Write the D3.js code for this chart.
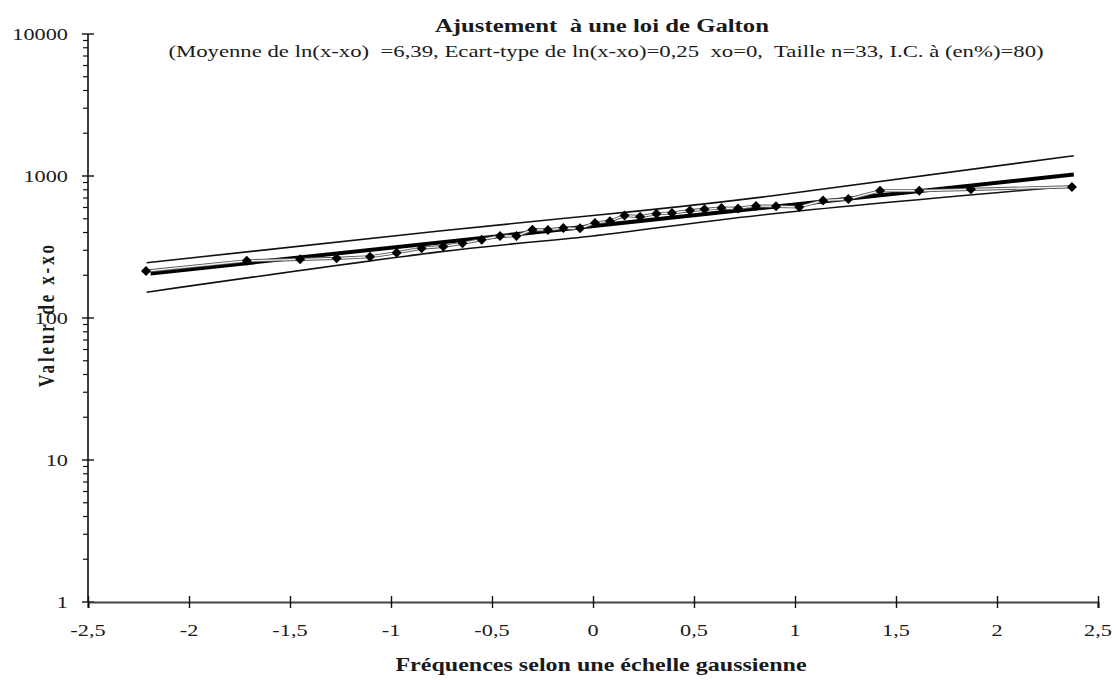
<!DOCTYPE html>
<html>
<head>
<meta charset="utf-8">
<script src="https://cdn.jsdelivr.net/npm/d3@7"></script>
<style>
  body { margin: 0; background: #fff; }
  svg { display: block; }
  text { font-family: "Liberation Serif", "Times New Roman", serif; fill: #1a1a1a; }
</style>
</head>
<body>
<svg id="chart" width="1116" height="680"></svg>
<script>
// Sample on a Gaussian frequency scale (z) and the observed values x - xo
const gaussZ = [-2.213, -1.714, -1.450, -1.269, -1.104, -0.972, -0.848, -0.741, -0.646, -0.551,
                -0.460, -0.379, -0.300, -0.223, -0.147, -0.064, 0.010, 0.084, 0.156, 0.233,
                0.314, 0.391, 0.480, 0.552, 0.636, 0.718, 0.807, 0.906, 1.021, 1.139,
                1.264, 1.421, 1.615, 1.871, 2.371];
const observed = [214, 253, 259, 263, 270, 288, 310, 319, 336, 356,
                  378, 378, 419, 417, 430, 428, 467, 481, 527, 517,
                  542, 549, 571, 583, 595, 591, 615, 612, 605, 672,
                  688, 787, 787, 806, 837];

// Fitted Galton (log-normal) line, end points
const fitZ = [-2.19, 2.38];
const fitValue = [206, 1025];

// Confidence band bounds
const boundZ = [-2.21, -0.76, 0, 0.88, 2.38];
const upperValue = [245, 410, 527, 723, 1390];
const lowerValue = [152, 292, 378, 540, 851];

// Axis ticks
const xTicks = [-2.5, -2, -1.5, -1, -0.5, 0, 0.5, 1, 1.5, 2, 2.5];
const yTicks = [1, 10, 100, 1000, 10000];

const titleText = "Ajustement  à une loi de Galton";
const subtitleText = "(Moyenne de ln(x-xo)  =6,39, Ecart-type de ln(x-xo)=0,25  xo=0,  Taille n=33, I.C. à (en%)=80)";
const xLabel = "Fréquences selon une échelle gaussienne";
const yLabel = "Valeur de x-xo";

// Text in this chart is set wide: glyphs stretched horizontally
const WIDE = 1.32;

const svg = d3.select("#chart");

const x = d3.scaleLinear().domain([-2.5, 2.5]).range([88, 1098]);
const y = d3.scaleLog().domain([1, 10000]).range([602, 34]);

function wideText(parent, px, py, str, size, anchor, bold, sx = WIDE) {
  return parent.append("text")
    .attr("transform", `translate(${px},${py}) scale(${sx},1)`)
    .attr("text-anchor", anchor)
    .attr("font-size", size)
    .attr("font-weight", bold ? "bold" : "normal")
    .attr("xml:space", "preserve")
    .text(str);
}

// Titles
wideText(svg, 602, 32, titleText, 19.5, "middle", true, 1.27);
wideText(svg, 606, 57, subtitleText, 17.5, "middle", false, 1.3);

// Y axis: line, major ticks crossing, minor log ticks outside
const yAxisG = svg.append("g");
yAxisG.append("line")
  .attr("x1", x(-2.5)).attr("x2", x(-2.5))
  .attr("y1", y(10000)).attr("y2", y(1))
  .attr("stroke", "#111").attr("stroke-width", 1.6);

const minor = y.ticks().filter(v => !yTicks.includes(v));
yAxisG.selectAll("line.minor").data(minor).join("line")
  .attr("class", "minor")
  .attr("x1", x(-2.5) - 5).attr("x2", x(-2.5))
  .attr("y1", d => y(d)).attr("y2", d => y(d))
  .attr("stroke", "#111").attr("stroke-width", 1.2);

yAxisG.selectAll("line.major").data(yTicks).join("line")
  .attr("class", "major")
  .attr("x1", x(-2.5) - 6).attr("x2", x(-2.5) + 6)
  .attr("y1", d => y(d)).attr("y2", d => y(d))
  .attr("stroke", "#111").attr("stroke-width", 1.4);

yTicks.forEach(v => {
  wideText(yAxisG, 68, y(v) + 5.5, String(v), 16.5, "end", false, 1.35);
});

// X axis through the value 1
const xAxisG = svg.append("g").attr("transform", `translate(0,${y(1)})`);
xAxisG.call(d3.axisBottom(x).tickValues(xTicks).tickSize(6).tickFormat(""));
xAxisG.call(g => g.select(".domain").attr("stroke", "#444").attr("stroke-width", 2.2));
xAxisG.selectAll(".tick line").attr("stroke", "#111").attr("stroke-width", 1.4).attr("y1", -6);
xTicks.forEach(v => {
  wideText(xAxisG, x(v), 34, String(v).replace(".", ","), 16.5, "middle", false, 1.35);
});

// Axis titles
wideText(svg, 601, 671, xLabel, 18.5, "middle", true, 1.3);

svg.append("text")
  .attr("transform", "translate(54,316) scale(1.3,1) rotate(-90)")
  .attr("text-anchor", "middle")
  .attr("font-size", 17).attr("font-weight", "bold")
  .attr("textLength", 142).attr("lengthAdjust", "spacing")
  .text(yLabel);

// Confidence bounds
const bandLine = d3.line().curve(d3.curveNatural)
  .x(d => x(d[0])).y(d => y(d[1]));
[upperValue, lowerValue].forEach(vals => {
  svg.append("path")
    .attr("d", bandLine(boundZ.map((z, i) => [z, vals[i]])))
    .attr("fill", "none").attr("stroke", "#111").attr("stroke-width", 1.6);
});

// Fitted line
svg.append("path")
  .attr("d", d3.line().x(d => x(d[0])).y(d => y(d[1]))(fitZ.map((z, i) => [z, fitValue[i]])))
  .attr("fill", "none").attr("stroke", "#000").attr("stroke-width", 4);

// Observed series: joining line and diamond markers
const pts = gaussZ.map((z, i) => [z, observed[i]]);
const dataLine = d3.line().x(d => x(d[0])).y(d => y(d[1]));
svg.append("path").attr("d", dataLine(pts))
  .attr("fill", "none").attr("stroke", "#555").attr("stroke-width", 3.2);
svg.append("path").attr("d", dataLine(pts))
  .attr("fill", "none").attr("stroke", "#f4f4f4").attr("stroke-width", 1.3);

const diamond = d3.symbol(d3.symbolSquare, 50);
svg.selectAll("path.pt").data(pts).join("path")
  .attr("class", "pt")
  .attr("d", diamond)
  .attr("transform", d => `translate(${x(d[0])},${y(d[1])}) rotate(45)`)
  .attr("fill", "#000");
</script>
</body>
</html>
